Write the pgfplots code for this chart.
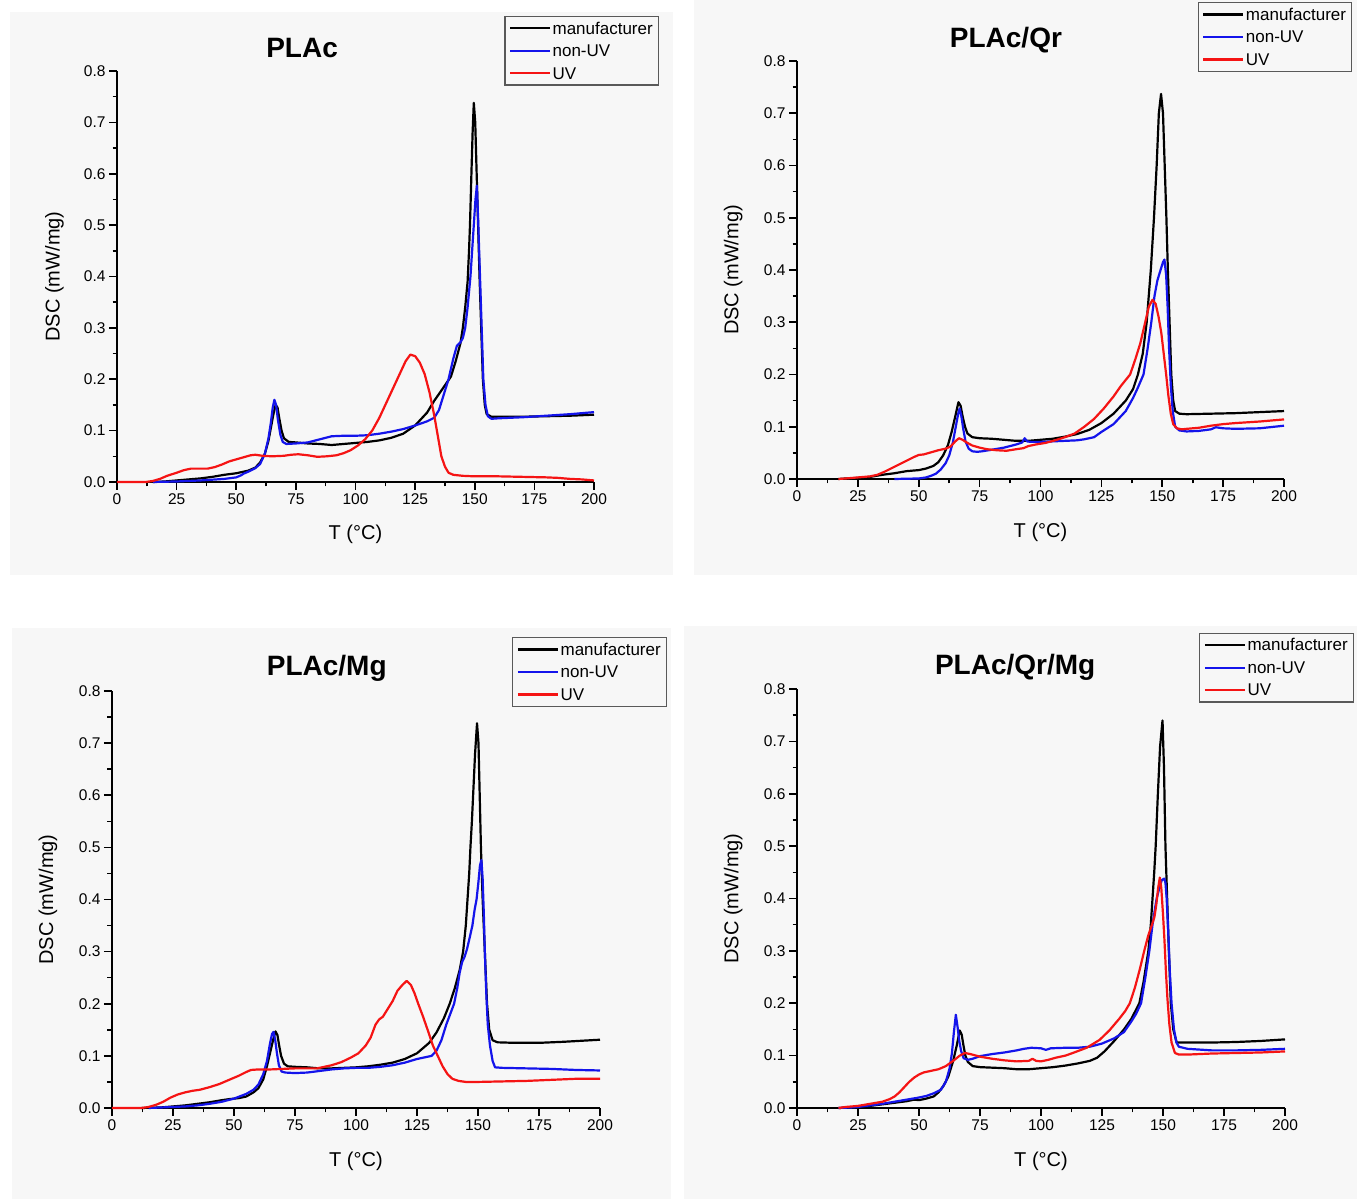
\documentclass[border=0pt]{standalone}
\usepackage{fontspec}
\setmainfont{Liberation Sans}
\usepackage{pgfplots}
\pgfplotsset{compat=1.18}

\definecolor{panelbg}{RGB}{247,247,247}
\definecolor{dscblue}{RGB}{20,20,235}
\definecolor{dscred}{RGB}{245,20,20}

\pgfplotsset{
  dsc/.style={
    scale only axis,
    anchor=south west,
    xmin=0, xmax=200, ymin=0, ymax=0.8,
    axis lines*=left,
    axis line style={line width=1.8pt},
    tick align=outside,
    major tick length=8pt,
    minor tick length=4.5pt,
    every tick/.style={black, line width=1.6pt},
    xtick={0,25,...,200},
    ytick={0,0.1,...,0.8},
    minor x tick num=1,
    minor y tick num=1,
    /pgf/number format/assume math mode=true,
    yticklabel style={/pgf/number format/fixed, /pgf/number format/fixed zerofill, /pgf/number format/precision=1},
    xticklabel style={/pgf/number format/fixed},
    tick label style={font=\fontsize{15.5}{18}\selectfont},
    every axis y label/.style={at={(axis description cs:-0.131,0.5)}, rotate=90, anchor=center,
      font=\fontsize{20}{24}\selectfont},
    every axis x label/.style={at={(axis description cs:0.5,-0.127)}, anchor=center,
      font=\fontsize{20}{24}\selectfont},
    xlabel={T (°C)},
    ylabel={DSC (mW/mg)},
    title style={font=\fontsize{28}{32}\selectfont\bfseries, anchor=base},
    legend style={anchor=north east, draw=black!65, line width=1.2pt, fill=panelbg,
      font=\fontsize{17}{20}\selectfont, inner sep=4pt, row sep=7pt,
      nodes={inner sep=1.5pt, text height=12pt, text depth=0.5pt}},
    legend cell align=left,
    legend image code/.code={\draw[#1, line width=2.2pt] (0pt,0pt) -- (40pt,0pt);},
    every axis plot/.append style={line width=2.2pt, line join=round},
    clip=false,
  },
}

\begin{document}
\begin{tikzpicture}
\fill[white] (0pt,0pt) rectangle (1357pt,1199pt);
\useasboundingbox (0pt,0pt) rectangle (1357pt,1199pt);
% panel backgrounds
\fill[panelbg] (10pt,624pt) rectangle (673pt,1187pt);
\fill[panelbg] (694pt,624pt) rectangle (1357pt,1199pt);
\fill[panelbg] (12pt,0pt) rectangle (671pt,571pt);
\fill[panelbg] (684pt,0pt) rectangle (1357pt,573pt);

% ---------------- PLAc ----------------
\begin{axis}[dsc, at={(117pt,717pt)}, width=477pt, height=411pt,
  title={PLAc}, title style={at={(0.388,1.019)}},
  legend style={at={(1.136,1.134)}}]
\addplot[black] coordinates {(15,0)(20,0.001)(25,0.003)(30,0.005)(35,0.007)(40,0.01)(45,0.014)(50,0.017)(55,0.022)(58,0.028)(60,0.038)(62,0.055)(63.5,0.08)(64.5,0.105)(65.5,0.13)(66.5,0.15)(67.3,0.145)(68,0.125)(69,0.1)(70,0.085)(72,0.078)(75,0.077)(80,0.075)(85,0.074)(90,0.072)(95,0.074)(100,0.076)(105,0.078)(110,0.081)(115,0.086)(120,0.094)(125,0.11)(130,0.135)(133,0.158)(136,0.178)(140,0.205)(142,0.235)(144,0.27)(145,0.3)(146,0.34)(147,0.39)(147.6,0.45)(148,0.5)(148.6,0.6)(149.1,0.68)(149.6,0.738)(150.2,0.7)(150.8,0.6)(151.4,0.5)(152,0.4)(152.7,0.3)(153.4,0.2)(154.2,0.15)(155,0.132)(157,0.127)(160,0.127)(170,0.127)(180,0.128)(190,0.129)(200,0.131)};
\addlegendentry{manufacturer}
\addplot[dscblue] coordinates {(15,0)(25,0.001)(35,0.003)(45,0.006)(50,0.009)(52,0.013)(53,0.016)(55,0.02)(58,0.027)(60,0.035)(62,0.055)(63.5,0.085)(64.5,0.115)(65.3,0.145)(66,0.16)(66.7,0.15)(67.5,0.12)(68.5,0.092)(69.5,0.078)(71,0.074)(75,0.075)(80,0.077)(85,0.083)(90,0.089)(95,0.09)(100,0.09)(105,0.091)(110,0.094)(115,0.098)(120,0.103)(125,0.11)(130,0.118)(133,0.125)(135,0.14)(137,0.17)(139,0.2)(141,0.24)(142.5,0.265)(144,0.272)(145,0.28)(146,0.3)(147,0.34)(148.2,0.4)(149.6,0.5)(150.3,0.55)(150.9,0.577)(151.5,0.5)(152.2,0.4)(152.9,0.3)(153.6,0.2)(154.5,0.15)(155.5,0.128)(157,0.123)(160,0.124)(170,0.126)(180,0.129)(190,0.132)(200,0.136)};
\addlegendentry{non-UV}
\addplot[dscred] coordinates {(0,0)(12,0)(15,0.002)(18,0.006)(21,0.012)(25,0.018)(28,0.023)(31,0.026)(35,0.026)(38,0.026)(41,0.029)(44,0.034)(47,0.04)(50,0.044)(53,0.048)(56,0.052)(58,0.053)(61,0.051)(65,0.05)(70,0.051)(73,0.053)(76,0.054)(80,0.052)(84,0.049)(88,0.05)(92,0.052)(95,0.056)(98,0.062)(101,0.071)(104,0.083)(107,0.1)(110,0.125)(113,0.155)(116,0.185)(119,0.215)(121,0.235)(123,0.248)(125,0.245)(127,0.232)(129,0.21)(131,0.175)(133,0.13)(134.5,0.09)(136,0.05)(137.5,0.03)(139,0.018)(141,0.014)(145,0.012)(150,0.011)(160,0.011)(170,0.01)(180,0.009)(185,0.008)(190,0.006)(195,0.005)(200,0.003)};
\addlegendentry{UV}
\end{axis}

% ---------------- PLAc/Qr ----------------
\begin{axis}[dsc, at={(797pt,720pt)}, width=487pt, height=418pt,
  title={PLAc/Qr}, title style={at={(0.429,1.017)}},
  legend style={at={(1.140,1.141)}}]
\addplot[black] coordinates {(17,0)(20,0.001)(25,0.002)(30,0.004)(35,0.008)(40,0.011)(45,0.015)(50,0.017)(53,0.02)(56,0.025)(58,0.032)(60,0.045)(62,0.065)(63.5,0.09)(65,0.12)(66.3,0.147)(67.2,0.14)(68,0.12)(69,0.1)(70,0.087)(72,0.08)(75,0.078)(80,0.077)(85,0.075)(90,0.073)(95,0.073)(100,0.075)(105,0.077)(110,0.081)(115,0.086)(120,0.094)(125,0.107)(130,0.125)(135,0.15)(138,0.172)(140,0.2)(142,0.24)(143.6,0.3)(145.3,0.4)(146.6,0.5)(147.7,0.6)(148.6,0.7)(149.5,0.737)(150.3,0.7)(151,0.6)(151.7,0.5)(152.3,0.4)(153,0.3)(153.7,0.2)(154.5,0.15)(155.3,0.13)(157,0.125)(160,0.124)(170,0.125)(180,0.126)(190,0.128)(200,0.13)};
\addlegendentry{manufacturer}
\addplot[dscblue] coordinates {(40,0)(45,0.0005)(50,0.001)(53,0.003)(55,0.006)(57,0.01)(59,0.018)(61,0.03)(62.5,0.045)(64,0.07)(65.2,0.1)(66.2,0.125)(66.8,0.135)(67.5,0.12)(68.3,0.095)(69.2,0.072)(70.5,0.058)(72,0.053)(74,0.052)(76,0.053)(80,0.056)(85,0.06)(90,0.066)(92.5,0.07)(93.5,0.078)(94.5,0.072)(96,0.071)(100,0.071)(105,0.072)(110,0.073)(115,0.074)(118,0.076)(120,0.078)(122,0.08)(125,0.09)(130,0.105)(135,0.13)(138,0.155)(140,0.175)(142.3,0.2)(144,0.25)(145.5,0.3)(146.8,0.35)(148,0.38)(149.3,0.4)(150.3,0.415)(150.9,0.42)(151.6,0.39)(152.2,0.33)(152.8,0.25)(153.5,0.18)(154.3,0.13)(155.3,0.1)(157,0.093)(160,0.091)(165,0.092)(170,0.095)(172,0.099)(175,0.097)(180,0.096)(190,0.097)(200,0.102)};
\addlegendentry{non-UV}
\addplot[dscred] coordinates {(17,0)(20,0.001)(25,0.003)(30,0.005)(33,0.008)(36,0.014)(39,0.021)(42,0.028)(45,0.035)(48,0.042)(50,0.046)(52,0.047)(55,0.051)(58,0.055)(61,0.058)(63,0.062)(65,0.072)(66.5,0.078)(68,0.075)(70,0.069)(72,0.064)(75,0.06)(78,0.057)(82,0.055)(86,0.054)(90,0.057)(93,0.059)(95,0.063)(98,0.066)(102,0.069)(106,0.074)(110,0.08)(114,0.087)(118,0.1)(122,0.115)(126,0.135)(130,0.158)(133,0.178)(136.8,0.2)(139,0.23)(141,0.26)(143,0.3)(144.5,0.33)(146,0.343)(147.3,0.335)(148.5,0.31)(149.6,0.28)(150.6,0.24)(151.6,0.2)(152.5,0.16)(153.5,0.125)(154.5,0.105)(156,0.097)(158,0.095)(160,0.096)(165,0.098)(170,0.102)(175,0.105)(180,0.107)(190,0.11)(200,0.114)};
\addlegendentry{UV}
\end{axis}

% ---------------- PLAc/Mg ----------------
\begin{axis}[dsc, at={(112pt,91pt)}, width=488pt, height=417pt,
  title={PLAc/Mg}, title style={at={(0.44,1.022)}},
  legend style={at={(1.137,1.129)}}]
\addplot[black] coordinates {(12,0)(20,0.001)(25,0.003)(30,0.005)(35,0.008)(40,0.011)(45,0.015)(48,0.017)(52,0.019)(55,0.022)(58,0.03)(60,0.038)(62,0.055)(63.5,0.08)(65,0.11)(66,0.13)(67,0.147)(67.8,0.14)(68.5,0.12)(69.3,0.1)(70.5,0.085)(72,0.08)(75,0.079)(80,0.078)(85,0.076)(90,0.076)(95,0.077)(100,0.078)(105,0.08)(110,0.083)(115,0.087)(120,0.094)(125,0.105)(130,0.125)(133,0.145)(136,0.172)(138.4,0.2)(140.5,0.23)(142.5,0.265)(143.9,0.3)(145,0.35)(145.7,0.4)(146.4,0.45)(146.9,0.5)(147.5,0.55)(148,0.6)(148.8,0.68)(149.6,0.738)(150.2,0.7)(150.7,0.6)(151.2,0.5)(151.9,0.4)(152.8,0.3)(153.7,0.2)(154.6,0.15)(156,0.13)(158,0.126)(165,0.125)(175,0.125)(185,0.127)(200,0.131)};
\addlegendentry{manufacturer}
\addplot[dscblue] coordinates {(15,0)(20,0.001)(25,0.002)(30,0.003)(35,0.005)(40,0.008)(45,0.012)(50,0.018)(55,0.027)(58,0.035)(60,0.045)(62,0.065)(63.5,0.09)(64.8,0.125)(65.6,0.142)(66.2,0.146)(66.9,0.13)(67.6,0.105)(68.4,0.082)(69.5,0.07)(71,0.068)(75,0.067)(80,0.068)(85,0.071)(90,0.074)(95,0.076)(100,0.077)(105,0.077)(110,0.079)(115,0.082)(120,0.087)(125,0.094)(128,0.097)(131,0.1)(133,0.11)(135,0.13)(137,0.16)(139,0.185)(140.2,0.2)(141.5,0.23)(142.5,0.26)(143.5,0.28)(144.5,0.29)(145.5,0.305)(146.5,0.325)(147.7,0.35)(148.6,0.38)(149.4,0.4)(150.1,0.43)(150.8,0.465)(151.4,0.476)(151.9,0.44)(152.4,0.37)(152.8,0.3)(153.4,0.22)(154,0.16)(154.9,0.12)(156,0.09)(157,0.078)(160,0.077)(170,0.076)(180,0.075)(190,0.073)(200,0.072)};
\addlegendentry{non-UV}
\addplot[dscred] coordinates {(0,0)(12,0)(15,0.002)(18,0.006)(21,0.012)(24,0.02)(27,0.026)(30,0.03)(33,0.033)(36,0.035)(40,0.04)(44,0.046)(48,0.054)(52,0.062)(55,0.069)(57,0.073)(60,0.074)(65,0.074)(70,0.075)(75,0.076)(80,0.076)(84,0.076)(87,0.079)(90,0.082)(94,0.088)(98,0.097)(101,0.105)(104,0.12)(106,0.135)(108,0.16)(109.5,0.17)(111,0.175)(113,0.19)(115,0.205)(117,0.225)(119,0.236)(120.8,0.244)(122.5,0.236)(124,0.22)(125.5,0.2)(127.5,0.175)(129.5,0.148)(131.5,0.12)(133.5,0.1)(135.5,0.08)(137.5,0.065)(139.5,0.056)(142,0.052)(145,0.05)(150,0.05)(160,0.051)(170,0.052)(180,0.054)(190,0.056)(200,0.056)};
\addlegendentry{UV}
\end{axis}

% ---------------- PLAc/Qr/Mg ----------------
\begin{axis}[dsc, at={(797pt,91pt)}, width=488pt, height=419pt,
  title={PLAc/Qr/Mg}, title style={at={(0.447,1.021)}},
  legend style={at={(1.141,1.134)}}]
\addplot[black] coordinates {(17,0)(22,0.001)(25,0.002)(30,0.004)(35,0.007)(40,0.01)(45,0.013)(48,0.016)(50,0.015)(53,0.018)(56,0.022)(58,0.03)(60,0.042)(62,0.06)(64,0.09)(65.5,0.12)(66.7,0.148)(67.5,0.14)(68.2,0.12)(69,0.1)(70,0.088)(72,0.08)(75,0.078)(80,0.077)(85,0.076)(90,0.074)(95,0.074)(100,0.076)(105,0.078)(110,0.081)(115,0.085)(120,0.09)(123,0.096)(126,0.108)(130,0.128)(134,0.15)(137,0.17)(140.3,0.2)(142,0.24)(144,0.3)(145,0.35)(145.7,0.4)(146.4,0.45)(147,0.5)(147.9,0.6)(148.8,0.69)(149.8,0.74)(150.4,0.65)(151,0.5)(151.7,0.4)(152.4,0.3)(153.2,0.2)(154.2,0.15)(155.6,0.125)(160,0.125)(170,0.125)(180,0.126)(190,0.128)(200,0.131)};
\addlegendentry{manufacturer}
\addplot[dscblue] coordinates {(17,0)(22,0.001)(25,0.002)(30,0.005)(35,0.008)(40,0.012)(45,0.016)(50,0.02)(53,0.023)(56,0.028)(59,0.035)(61,0.05)(62.5,0.075)(63.5,0.105)(64.3,0.145)(65.1,0.178)(65.8,0.155)(66.5,0.128)(67.3,0.108)(68.3,0.095)(70,0.092)(72,0.094)(75,0.099)(80,0.103)(85,0.106)(90,0.11)(93,0.113)(96,0.115)(100,0.114)(102,0.111)(104,0.114)(110,0.115)(115,0.115)(120,0.117)(125,0.123)(130,0.133)(134,0.145)(137,0.165)(139,0.18)(141,0.2)(142.8,0.25)(144.4,0.3)(145.7,0.35)(146.7,0.38)(147.4,0.4)(148.5,0.42)(149.5,0.435)(150.5,0.438)(151,0.43)(151.5,0.4)(152.2,0.33)(152.8,0.26)(153.5,0.2)(154.5,0.15)(155.5,0.125)(156.5,0.117)(160,0.113)(170,0.11)(180,0.11)(190,0.111)(200,0.113)};
\addlegendentry{non-UV}
\addplot[dscred] coordinates {(17,0)(20,0.002)(25,0.004)(30,0.008)(35,0.012)(38,0.017)(40,0.022)(42,0.03)(44,0.04)(46,0.05)(48,0.058)(50,0.064)(52,0.068)(55,0.071)(58,0.074)(61,0.08)(64,0.09)(66.7,0.1)(68.8,0.105)(71,0.103)(75,0.098)(80,0.094)(85,0.091)(90,0.089)(95,0.09)(96.5,0.094)(98,0.09)(100,0.089)(103,0.092)(106,0.096)(110,0.1)(113,0.105)(118.7,0.115)(124,0.13)(128,0.148)(132,0.17)(134.5,0.185)(136.4,0.2)(138.5,0.23)(140.5,0.265)(142.3,0.3)(144,0.33)(145.5,0.35)(146.5,0.365)(147.3,0.39)(148,0.42)(148.7,0.44)(149.3,0.42)(150,0.37)(150.6,0.32)(151.2,0.26)(151.8,0.21)(152.6,0.16)(153.5,0.125)(154.9,0.105)(156.5,0.102)(160,0.102)(170,0.104)(180,0.105)(190,0.106)(200,0.108)};
\addlegendentry{UV}
\end{axis}
\end{tikzpicture}
\end{document}
